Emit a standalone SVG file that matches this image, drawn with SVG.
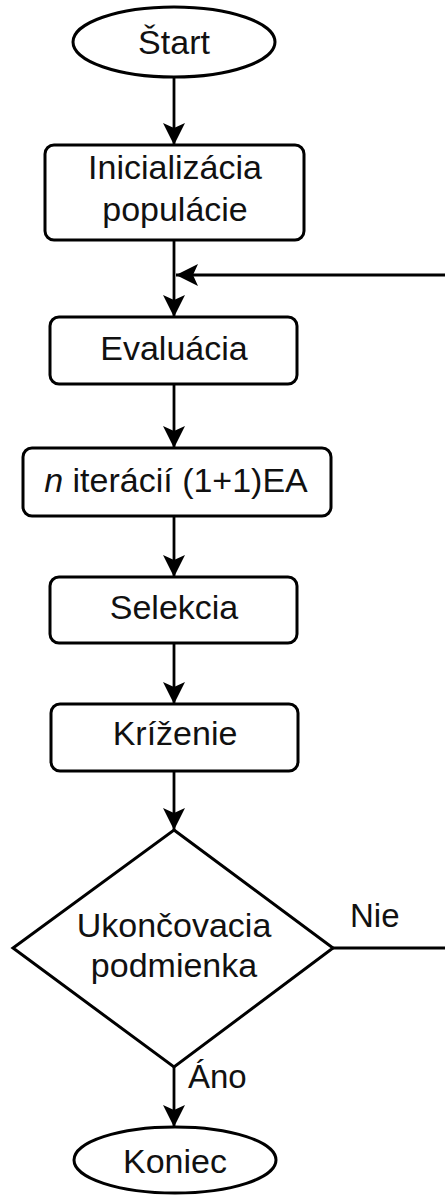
<svg xmlns="http://www.w3.org/2000/svg" width="445" height="1195" viewBox="0 0 445 1195">
<style>
.shape{fill:#ffffff;stroke:#000000;stroke-width:3}
.edge{fill:none;stroke:#000000;stroke-width:2.8}
.t{font-family:"Liberation Sans",Arial,Helvetica,sans-serif;font-size:34px;fill:#111111;text-anchor:middle}
.lbl{font-family:"Liberation Sans",Arial,Helvetica,sans-serif;font-size:33px;fill:#111111}
</style>
<defs>
<marker id="arr" viewBox="0 0 24 24" markerWidth="24" markerHeight="24" refX="22" refY="12" orient="auto" markerUnits="userSpaceOnUse">
<path d="M0,1 L22,12 L0,23 L5,12 Z" fill="#000000"/>
</marker>
</defs>
<rect width="445" height="1195" fill="#ffffff"/>
<g id="connectors">
<line class="edge" x1="174" y1="77" x2="174" y2="145" marker-end="url(#arr)"/>
<line class="edge" x1="174" y1="240" x2="174" y2="317" marker-end="url(#arr)"/>
<line class="edge" x1="445" y1="275" x2="176" y2="275" marker-end="url(#arr)"/>
<line class="edge" x1="174" y1="384" x2="174" y2="448" marker-end="url(#arr)"/>
<line class="edge" x1="174" y1="516" x2="174" y2="577" marker-end="url(#arr)"/>
<line class="edge" x1="174" y1="643" x2="174" y2="704" marker-end="url(#arr)"/>
<line class="edge" x1="174" y1="771" x2="174" y2="830" marker-end="url(#arr)"/>
<line class="edge" x1="174" y1="1067" x2="174" y2="1127" marker-end="url(#arr)"/>
<line class="edge" x1="333" y1="948" x2="445" y2="948"/>
<text class="lbl" x="350" y="927">Nie</text>
<text class="lbl" x="188" y="1088">Áno</text>
</g>
<g id="start">
<ellipse class="shape" cx="174" cy="42" rx="101" ry="35"/>
<text class="t" x="174" y="54">Štart</text>
</g>
<g id="init">
<rect class="shape" x="45" y="145" width="259" height="95" rx="9"/>
<text class="t" x="175" y="179">Inicializácia</text>
<text class="t" x="175" y="221">populácie</text>
</g>
<g id="eval">
<rect class="shape" x="50" y="317" width="247" height="67" rx="9"/>
<text class="t" x="174" y="360">Evaluácia</text>
</g>
<g id="iter">
<rect class="shape" x="23" y="448" width="308" height="68" rx="9"/>
<text class="t" x="176" y="492"><tspan font-style="italic">n</tspan> iterácií (1+1)EA</text>
</g>
<g id="select">
<rect class="shape" x="50" y="577" width="247" height="66" rx="9"/>
<text class="t" x="174" y="619">Selekcia</text>
</g>
<g id="cross">
<rect class="shape" x="51" y="704" width="247" height="67" rx="9"/>
<text class="t" x="175" y="745">Kríženie</text>
</g>
<g id="decision">
<polygon class="shape" points="174,830 333,948 174,1067 13,948"/>
<text class="t" x="174" y="937">Ukončovacia</text>
<text class="t" x="174" y="977">podmienka</text>
</g>
<g id="end">
<ellipse class="shape" cx="175" cy="1160" rx="101" ry="33"/>
<text class="t" x="175" y="1173">Koniec</text>
</g>
</svg>
